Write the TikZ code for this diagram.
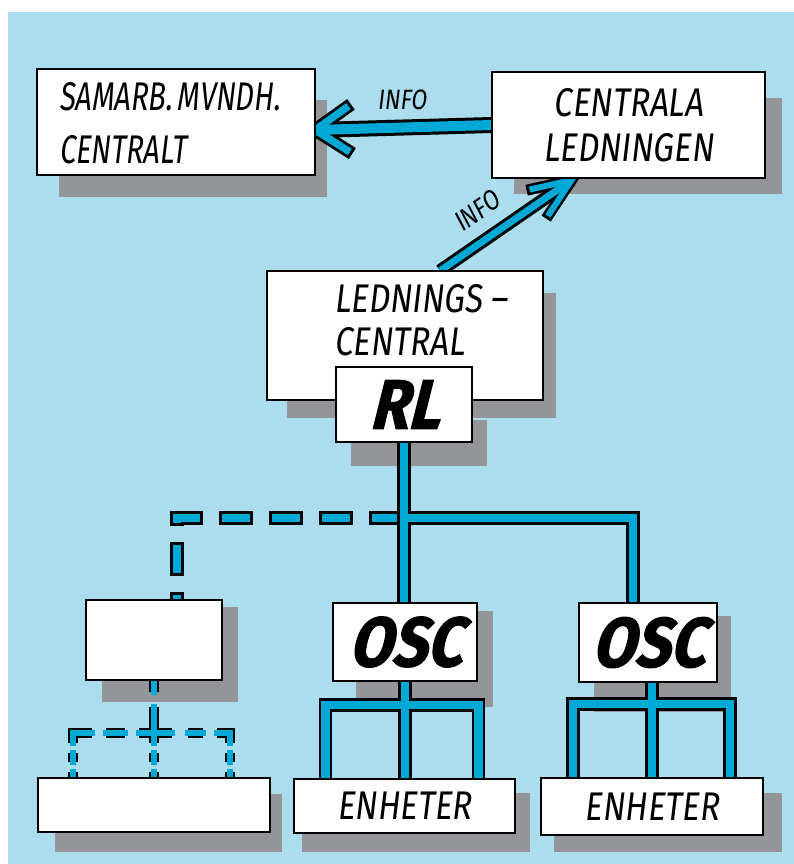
\documentclass[tikz,border=0pt]{standalone}
\usepackage{fontspec}
\usetikzlibrary{calc}
\newfontfamily\hand{Fira Sans}[FakeStretch=0.82,FakeSlant=0.12]
\newfontfamily\handn{Fira Sans}[FakeStretch=0.72,FakeSlant=0.12]
\newfontfamily\brush{Fira Sans}[FakeStretch=0.88,FakeSlant=0.25,FakeBold=1.5]
\definecolor{bgblue}{RGB}{171,221,238}
\definecolor{pipeblue}{RGB}{0,168,214}
\definecolor{shadowgray}{RGB}{147,149,152}
\begin{document}
\begin{tikzpicture}[x=1pt,y=-1pt,
  box/.style={draw=black, line width=2.5pt, fill=white, inner sep=0pt, line join=miter},
  shade/.style={fill=shadowgray},
  handtxt/.style={font=\hand\fontsize{40}{53}\selectfont, inner sep=0pt},
  infotxt/.style={font=\hand\fontsize{28}{30}\selectfont, inner sep=0pt},
  brushtxt/.style={font=\brush\bfseries\fontsize{70}{72}\selectfont, inner sep=0pt},
  pipe/.style={line width=8.5pt, draw=pipeblue, line join=miter, preaction={draw=black, line width=13.5pt}},
  dout/.style={draw=black, line width=13.5pt, line cap=rect, line join=miter, dash pattern=on 20pt off 30pt, dash phase=42pt},
  din/.style={draw=pipeblue, line width=8.5pt, line cap=rect, line join=miter, dash pattern=on 20pt off 30pt, dash phase=42pt},
  thinpipe/.style={line width=5.5pt, draw=pipeblue, line cap=rect, line join=miter, preaction={draw=black, line width=10pt}}
]
\useasboundingbox (0,0) rectangle (794,864);
\fill[bgblue] (8,12) rectangle (794,864);

% shadows
\fill[shade] (59,100) rectangle (327,197);
\fill[shade] (514,98) rectangle (782,194);
\fill[shade] (287,293) rectangle (556,418);
\fill[shade] (351,420) rectangle (487,466);
\fill[shade] (102,607) rectangle (238,702);
\fill[shade] (356,611) rectangle (493,707);
\fill[shade] (594,616) rectangle (731,712);
\fill[shade] (55,794) rectangle (282,852);
\fill[shade] (302,793) rectangle (530,852);
\fill[shade] (554,793) rectangle (782,852);

% box places
\path (176,122) node[minimum width=278pt, minimum height=106pt, inner sep=0pt] (sam) {};
\path (628.5,125) node[minimum width=273pt, minimum height=106pt, inner sep=0pt] (cl) {};
\path (405,335.5) node[minimum width=276pt, minimum height=129pt, inner sep=0pt] (led) {};
\path (404,404.5) node[minimum width=136pt, minimum height=75pt, inner sep=0pt] (rl) {};
\path (154,640) node[minimum width=136pt, minimum height=80pt, inner sep=0pt] (emp) {};
\path (405,642) node[minimum width=144pt, minimum height=78pt, inner sep=0pt] (osc1) {};
\path (648,642.5) node[minimum width=138pt, minimum height=79pt, inner sep=0pt] (osc2) {};
\path (154,805) node[minimum width=232pt, minimum height=54pt, inner sep=0pt] (bl) {};
\path (404.5,806) node[minimum width=221pt, minimum height=54pt, inner sep=0pt] (en1) {};
\path (652,806.5) node[minimum width=222pt, minimum height=57pt, inner sep=0pt] (en2) {};

% arrows
\coordinate (t1) at (cl.west);
\coordinate (p1) at ($(sam.east)+(0,8)$);
\coordinate (b1) at ($(p1)!44pt!34:(t1)$);
\coordinate (b2) at ($(p1)!44pt!-34:(t1)$);
\coordinate (c1) at ($(p1)!41pt!34:(t1)$);
\coordinate (c2) at ($(p1)!41pt!-34:(t1)$);
\draw[black, line width=16pt] (t1) -- (p1);
\draw[black, line width=13pt, line join=miter] (b1) -- (p1) -- (b2);
\draw[pipeblue, line width=7.5pt, line join=miter] (c1) -- (p1) -- (c2);
\draw[pipeblue, line width=10pt] (t1) -- (p1);

\coordinate (t2) at ($(led.north)+(35,0)$);
\coordinate (p2) at ($(cl.south)+(-57,2)$);
\coordinate (d1) at ($(p2)!46pt!22:(t2)$);
\coordinate (d2) at ($(p2)!46pt!-22:(t2)$);
\coordinate (e1) at ($(p2)!43pt!22:(t2)$);
\coordinate (e2) at ($(p2)!43pt!-22:(t2)$);
\draw[black, line width=13pt] (t2) -- (p2);
\draw[black, line width=11pt, line join=miter] (d1) -- (p2) -- (d2);
\draw[pipeblue, line width=6pt, line join=miter] (e1) -- (p2) -- (e2);
\draw[pipeblue, line width=7pt] (t2) -- (p2);

\node[infotxt] (info1) at (402,100) {INFO};
\node[infotxt, rotate=34.6] (info2) at (477,211) {INFO};

% pipes
\coordinate (busy) at (0,518);
\coordinate (J) at (rl.south |- busy);
\coordinate (R) at (633,518);
\coordinate (L) at ($(emp.north)+(23,0)$);
\draw[dout] (J) -- (L |- busy) -- (L);
\draw[din] (J) -- (L |- busy) -- (L);
\draw[pipe] (rl.south) -- (J |- osc1.north) (J) -- (R) -- (R |- osc2.north);

\draw[pipe] (osc1.south) -- (osc1.south |- en1.north)
  ($(en1.north)+(-79,0)$) -- ($(en1.north)+(-79,-74)$) -- ($(en1.north)+(74,-74)$) -- ($(en1.north)+(74,0)$);
\draw[pipe] (en2.north |- osc2.south) -- (en2.north)
  ($(en2.north)+(-79,0)$) -- ($(en2.north)+(-79,-74)$) -- ($(en2.north)+(78,-74)$) -- ($(en2.north)+(78,0)$);

\coordinate (h) at (emp.south |- 0,733);
\begin{scope}[shift={(h)}]
\draw[thinpipe] (0,-53) -- (0,-41)
  (0,-26) -- (0,10) (-15,0) -- (18,0)
  (-48,0) -- (-29,0) (34,0) -- (49,0)
  (-62,0) -- (-81,0) -- (-81,10)
  (63,0) -- (76,0) -- (76,10)
  (-81,20) -- (-81,29) (0,20) -- (0,29) (76,20) -- (76,29)
  (-81,39) -- (-81,46) (0,39) -- (0,46) (76,39) -- (76,46);
\end{scope}

% boxes
\node[box, minimum width=278pt, minimum height=106pt] at (sam) {};
\node[box, minimum width=273pt, minimum height=106pt, align=center, font=\hand\fontsize{40}{45}\selectfont] at (cl) {CENTRALA\\LEDNINGEN};
\node[box, minimum width=276pt, minimum height=129pt] at (led) {};
\node[box, minimum width=136pt, minimum height=75pt, brushtxt] at (rl) {RL};
\node[box, minimum width=136pt, minimum height=80pt] at (emp) {};
\node[box, minimum width=144pt, minimum height=78pt, brushtxt] at (osc1) {OSC};
\node[box, minimum width=138pt, minimum height=79pt, brushtxt] at (osc2) {OSC};
\node[box, minimum width=232pt, minimum height=54pt] at (bl) {};
\node[box, minimum width=221pt, minimum height=54pt, handtxt] at (en1) {ENHETER};
\node[box, minimum width=222pt, minimum height=57pt, handtxt] at (en2) {ENHETER};

\node[handtxt, align=left, anchor=north west, font=\handn\fontsize{40}{53}\selectfont] (samtxt) at (59,82) {SAMARB.\hspace{5pt}MVNDH.\\CENTRALT};
\node[handtxt, align=left, anchor=north west, font=\hand\fontsize{40}{43}\selectfont] (ledtxt) at (334,284) {LEDNINGS –\\CENTRAL};
\end{tikzpicture}
\end{document}
